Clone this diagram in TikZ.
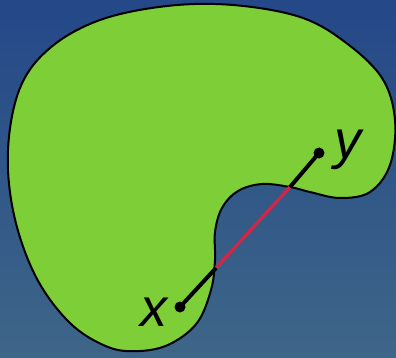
\documentclass[tikz,border=0pt]{standalone}
\usepackage{fontspec}
\setmainfont{Liberation Sans}
\begin{document}
\begin{tikzpicture}[x=1pt,y=-1pt]
\definecolor{bgtop}{RGB}{36,72,136}
\definecolor{bgbot}{RGB}{62,102,136}
\definecolor{blob}{RGB}{126,206,56}
\definecolor{seg}{RGB}{205,40,70}
\tikzset{
  blobstyle/.style={fill=blob,draw=black,line width=2pt},
  blackseg/.style={line width=4pt,black},
  redseg/.style={line width=3.4pt,seg},
  ptdot/.style={circle,fill=black,inner sep=0pt,minimum size=11pt},
  lbl/.style={font=\fontsize{54}{54}\selectfont\itshape,inner sep=0pt}
}
\shade[top color=bgtop,bottom color=bgbot] (0,0) rectangle (396,358);
\useasboundingbox (0,0) rectangle (396,358);
\draw[blobstyle] plot[smooth cycle,tension=0.6] coordinates {
 (167,6) (233,5) (300,17) (345,42) (382,78) (395,120) (390,165) (370,192)
 (340,198) (310,192) (290,187) (262,184) (238,191) (222,208) (215,232)
 (215,260) (211,290) (197,323) (170,344) (140,351) (108,347) (70,323)
 (36,277) (14,215) (8,150) (20,88) (50,48) (100,20)};
\node[ptdot] (x) at (180,307) {};
\node[ptdot] (y) at (319,153) {};
\coordinate (a) at (216,268);
\coordinate (b) at (290,187);
\draw[redseg] (a) -- (b);
\draw[blackseg] (x.center) -- (a);
\draw[blackseg] (b) -- (y.center);
\node[lbl,anchor=base] (xl) at (154,326) {x};
\node[lbl,anchor=base] (yl) at (348,159) {y};
\end{tikzpicture}
\end{document}
